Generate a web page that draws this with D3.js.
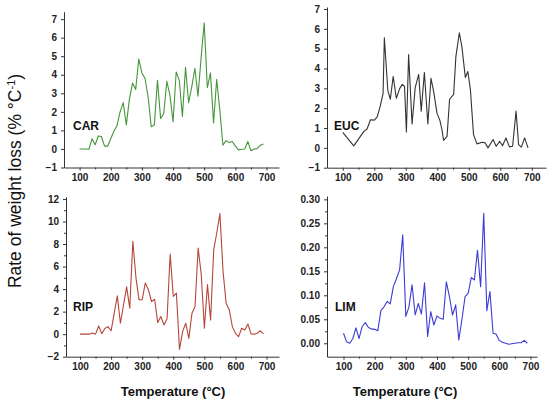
<!doctype html>
<head>
  <meta charset="utf-8">
  <script src="https://cdnjs.cloudflare.com/ajax/libs/d3/7.8.2/d3.min.js"></script>
</head>
<style>
    body { margin: 0; background: #fff; }
    svg { display: block; font-family: "Liberation Sans", Arial, sans-serif; }
    .tick text { font-size: 10px; font-weight: bold; fill: #222; }
    .domain, .tick line { stroke: #333; }
</style>
<body>
<div id="chart"></div>
<script>
    // Data (temperature in °C, rate in % °C-1)
    const carTemp = [100,110,120,130,140,150,160,170,180,190,200,210,220,230,240,250,260,270,280,290,
        300,310,320,330,340,350,360,370,380,390,400,410,420,430,440,450,460,470,480,490,
        500,510,520,530,540,550,560,570,580,590,600,610,620,630,640,650,660,670,680,690];
    const carRate = [0,0,0,-0.02,0.55,0.22,0.7,0.67,0.15,0.15,0.55,0.95,1.25,2.0,2.5,1.3,2.7,3.55,3.2,4.85,
        4.1,3.8,2.8,1.2,1.3,3.7,1.65,1.9,3.65,2.9,1.45,4.15,3.7,1.75,4.4,2.5,3.35,4.35,2.85,4.9,
        6.8,3.3,4.1,1.4,3.75,2.1,0.2,0.45,0.35,0.4,0.15,-0.05,-0.02,0,0.4,-0.1,0,0.02,0.2,0.27];

    const eucTemp = [100,135,156,167,177,188,200,209,219,228,232,243,251,260,270,281,289,296,302,309,
        320,330,341,349,359,370,380,389,399,408,415,420,431,439,452,459,470,478,489,497,
        505,515,526,542,552,561,577,587,598,607,618,629,639,650,658,667,677,688];
    const eucRate = [0.78,0.1,0.58,0.83,0.95,1.42,1.4,1.55,2.1,2.75,5.55,2.9,2.45,3.6,2.5,3.0,3.2,3.1,0.8,4.7,
        1.2,3.05,3.7,1.85,3.8,1.2,3.5,2.8,1.75,1.4,0.9,0.38,0.58,2.45,2.7,4.6,5.8,5.1,3.55,3.85,
        2.95,0.67,0.2,0.28,0.25,0.0,0.42,0.08,0.33,0.11,0.5,0.05,0.08,1.85,0.16,0.04,0.5,0.0];

    const ripTemp = carTemp;
    const ripRate = [0,0,0,0,0.1,0,0.73,0.05,0.5,0.67,0.3,1.85,3.4,0.97,2.6,4.2,2.3,8.25,5.0,3.05,
        3.05,4.55,3.95,2.9,3.1,1.03,1.57,0.82,1.4,7.1,3.35,3.65,-1.35,0.23,0.97,-0.37,1.85,2.45,7.65,5.27,
        0.52,4.4,1.25,7.5,9.0,10.7,5.57,2.75,2.15,0.67,0.08,-0.22,0.52,0.37,0.9,0.02,0,0.08,0.3,0.02];

    const limTemp = carTemp;
    const limRate = [0.021,0.003,0,0.01,0.032,0.01,0.035,0.043,0.033,0.03,0.029,0.026,0.068,0.076,0.087,0.082,0.118,0.135,0.153,0.226,
        0.056,0.076,0.122,0.059,0.083,0.061,0.126,0.014,0.066,0.038,0.057,0.052,0.05,0.128,0.097,0.059,0.08,0.007,0.049,0.097,
        0.104,0.137,0.132,0.194,0.118,0.271,0.068,0.108,0.021,0.019,0.006,0.002,0,-0.002,-0.001,0,0.001,0.001,0.006,0];

    const xTicks = [100,200,300,400,500,600,700];
    const xMinor = [150,250,350,450,550,650];
    const carTicks = [-1,0,1,2,3,4,5,6,7];
    const ripTicks = [-2,0,2,4,6,8,10,12];
    const limTicks = [0,0.05,0.10,0.15,0.20,0.25,0.30];

    const W = 550, H = 405;
    const svg = d3.select('#chart').append('svg')
        .attr('width', W)
        .attr('height', H);

    function drawPanel(p) {
        const x = d3.scaleLinear().domain(p.xDomain).range(p.xRange);
        const y = d3.scaleLinear().domain(p.yDomain).range(p.yRange);
        const g = svg.append('g');

        // minor ticks first so the main axis sits on top
        g.append('g')
            .attr('transform', `translate(0,${p.yRange[0]})`)
            .call(d3.axisBottom(x).tickValues(xMinor).tickSize(2).tickFormat(''))
            .call(a => a.select('.domain').remove());
        if (p.yMinor) {
            g.append('g')
                .attr('transform', `translate(${p.xRange[0]},0)`)
                .call(d3.axisLeft(y).tickValues(p.yMinor).tickSize(2).tickFormat(''))
                .call(a => a.select('.domain').remove());
        }

        g.append('g')
            .attr('transform', `translate(0,${p.yRange[0]})`)
            .call(d3.axisBottom(x).tickValues(xTicks).tickSize(3).tickPadding(3).tickSizeOuter(0));
        g.append('g')
            .attr('transform', `translate(${p.xRange[0]},0)`)
            .call(d3.axisLeft(y).tickValues(p.yTicks).tickSize(3).tickPadding(4).tickSizeOuter(0)
                .tickFormat(p.fmt));

        const line = d3.line()
            .x((d, i) => x(p.temp[i]))
            .y(d => y(d));
        g.append('path')
            .datum(p.rate)
            .attr('d', line)
            .attr('fill', 'none')
            .attr('stroke', p.color)
            .attr('stroke-width', 1.1)
            .attr('stroke-linejoin', 'round');

        g.append('text')
            .attr('x', p.labelPos[0])
            .attr('y', p.labelPos[1])
            .attr('font-size', 12)
            .attr('font-weight', 'bold')
            .attr('fill', '#111')
            .text(p.name);
    }

    drawPanel({
        name: 'CAR', temp: carTemp, rate: carRate, color: '#45963a',
        xDomain: [50, 740], xRange: [64, 279],
        yDomain: [-1, 7.4], yRange: [167.5, 11.7],
        yTicks: carTicks, fmt: d3.format('d'), labelPos: [73, 130]
    });
    drawPanel({
        name: 'EUC', temp: eucTemp, rate: eucRate, color: '#333333',
        xDomain: [50, 745], xRange: [327, 546],
        yDomain: [-1, 7.1], yRange: [167.7, 7],
        yTicks: carTicks, fmt: d3.format('d'), labelPos: [334, 130]
    });
    drawPanel({
        name: 'RIP', temp: ripTemp, rate: ripRate, color: '#b5473a',
        xDomain: [55, 740], xRange: [66, 279],
        yDomain: [-2, 12.2], yRange: [356.7, 196.7],
        yTicks: ripTicks, yMinor: [-1,1,3,5,7,9,11], fmt: d3.format('d'), labelPos: [73, 311]
    });
    drawPanel({
        name: 'LIM', temp: limTemp, rate: limRate, color: '#3b3bd6',
        xDomain: [47, 721], xRange: [327, 537],
        yDomain: [-0.028, 0.307], yRange: [356.7, 196],
        yTicks: limTicks, yMinor: [0.025,0.075,0.125,0.175,0.225,0.275], fmt: d3.format('.2f'), labelPos: [335, 311]
    });

    // shared axis titles
    svg.append('text')
        .attr('transform', 'translate(21,181) rotate(-90)')
        .attr('text-anchor', 'middle')
        .attr('font-size', 17.5)
        .attr('fill', '#111')
        .html('Rate of weight loss (% °C<tspan baseline-shift="super" font-size="11">-1</tspan>)');

    [173, 405].forEach(cx => {
        svg.append('text')
            .attr('x', cx)
            .attr('y', 396)
            .attr('text-anchor', 'middle')
            .attr('font-size', 13)
            .attr('font-weight', 'bold')
            .attr('fill', '#111')
            .text('Temperature (°C)');
    });
</script>
</body>
